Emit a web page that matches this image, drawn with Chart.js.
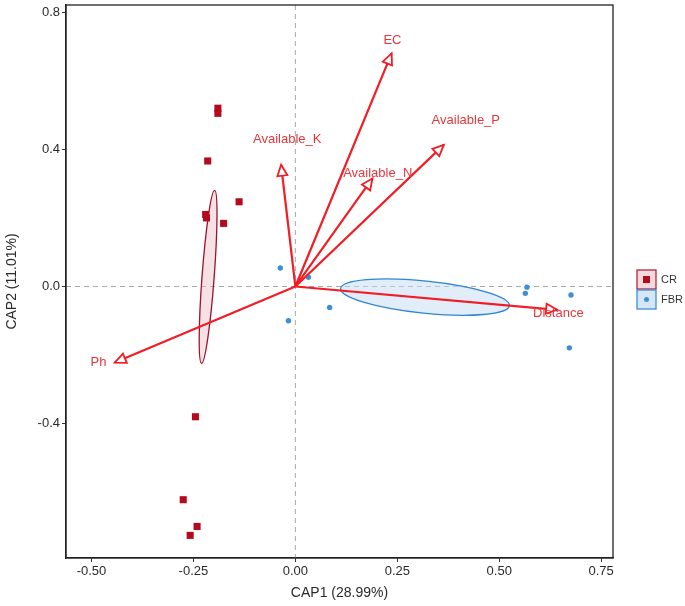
<!DOCTYPE html>
<html>
<head>
<meta charset="utf-8">
<script src="https://cdn.jsdelivr.net/npm/chart.js@4.4.1/dist/chart.umd.min.js"></script>
<style>
  html, body { margin: 0; padding: 0; background: #fff; }
  #wrap { width: 685px; height: 606px; }
</style>
</head>
<body>
<div id="wrap"><canvas id="myChart"></canvas></div>
<script>
// sample scores
var crX = [-0.19, -0.19, -0.215, -0.138, -0.22, -0.218, -0.176, -0.245, -0.275, -0.241, -0.258];
var crY = [0.52, 0.505, 0.366, 0.247, 0.21, 0.2, 0.184, -0.38, -0.622, -0.70, -0.726];
var fbrX = [-0.037, 0.032, 0.084, -0.017, 0.568, 0.564, 0.676, 0.672];
var fbrY = [0.054, 0.027, -0.061, -0.10, -0.002, -0.02, -0.025, -0.179];

// environmental vectors
var envNames = ['EC', 'Available_P', 'Available_K', 'Available_N', 'Distance', 'Ph'];
var envX = [0.236, 0.364, -0.035, 0.189, 0.642, -0.443];
var envY = [0.68, 0.413, 0.355, 0.315, -0.068, -0.222];
var envLabelX = [0.238, 0.418, -0.02, 0.202, 0.645, -0.483];
var envLabelY = [0.719, 0.483, 0.43, 0.33, -0.08, -0.222];

// group ellipses: centre, half major axis, minor/major ratio
var ellGroups = ['CR', 'FBR'];
var ellCx = [-0.214, 0.318];
var ellCy = [0.028, -0.031];
var ellAx = [0.016, 0.207];
var ellAy = [0.2525, -0.025];
var ellRatio = [0.07, 0.19];

var xTicks = [-0.5, -0.25, 0, 0.25, 0.5, 0.75];
var yTicks = [-0.4, 0, 0.4, 0.8];

var crColor = '#B40A1E';
var fbrColor = '#3C8FD8';
var arrowColor = '#F21D24';
var fontFam = '"Liberation Sans", Arial, sans-serif';

function pts(xs, ys) {
  var out = [];
  for (let i = 0; i < xs.length; i++) out.push({x: xs[i], y: ys[i]});
  return out;
}

var datasets = [];
for (let i = 0; i < envNames.length; i++) {
  datasets.push({
    label: envNames[i],
    type: 'line',
    data: [{x: 0, y: 0}, {x: envX[i], y: envY[i]}],
    borderColor: arrowColor,
    borderWidth: 2.2,
    pointRadius: 0,
    showLine: true,
    isArrow: true,
    order: 1
  });
}
datasets.push({
  label: 'CR',
  data: pts(crX, crY),
  pointStyle: 'rect',
  pointRadius: 5,
  backgroundColor: crColor,
  borderColor: crColor,
  borderWidth: 0,
  order: 2
});
datasets.push({
  label: 'FBR',
  data: pts(fbrX, fbrY),
  pointStyle: 'circle',
  pointRadius: 2.7,
  backgroundColor: fbrColor,
  borderColor: fbrColor,
  borderWidth: 0,
  order: 2
});

var bioplot = {
  id: 'bioplot',
  beforeDatasetsDraw(chart) {
    const ctx = chart.ctx, xs = chart.scales.x, ys = chart.scales.y, a = chart.chartArea;
    ctx.save();
    // zero lines
    ctx.setLineDash([5, 4]);
    ctx.strokeStyle = '#a8a8a8';
    ctx.lineWidth = 1;
    ctx.beginPath();
    ctx.moveTo(xs.getPixelForValue(0), a.top);
    ctx.lineTo(xs.getPixelForValue(0), a.bottom);
    ctx.moveTo(a.left, ys.getPixelForValue(0));
    ctx.lineTo(a.right, ys.getPixelForValue(0));
    ctx.stroke();
    ctx.setLineDash([]);
    // ellipses
    var fills = ['rgba(236,190,196,0.45)', 'rgba(196,220,242,0.5)'];
    var strokes = ['#9E1230', '#2F86D6'];
    for (let i = 0; i < ellGroups.length; i++) {
      const cx = xs.getPixelForValue(ellCx[i]), cy = ys.getPixelForValue(ellCy[i]);
      const ex = xs.getPixelForValue(ellCx[i] + ellAx[i]), ey = ys.getPixelForValue(ellCy[i] + ellAy[i]);
      const ra = Math.hypot(ex - cx, ey - cy);
      const ang = Math.atan2(ey - cy, ex - cx);
      ctx.beginPath();
      ctx.ellipse(cx, cy, ra, ra * ellRatio[i], ang, 0, Math.PI * 2);
      ctx.fillStyle = fills[i];
      ctx.fill();
      ctx.strokeStyle = strokes[i];
      ctx.lineWidth = 1.3;
      ctx.stroke();
    }
    ctx.restore();
  },
  afterDatasetsDraw(chart) {
    const ctx = chart.ctx, xs = chart.scales.x, ys = chart.scales.y, a = chart.chartArea;
    ctx.save();
    // arrow heads
    chart.data.datasets.forEach((ds, di) => {
      if (!ds.isArrow) return;
      const meta = chart.getDatasetMeta(di);
      const p0 = meta.data[0], p1 = meta.data[1];
      const ang = Math.atan2(p1.y - p0.y, p1.x - p0.x);
      const L = 11, W = 5;
      const bx = p1.x - L * Math.cos(ang), by = p1.y - L * Math.sin(ang);
      ctx.beginPath();
      ctx.moveTo(p1.x, p1.y);
      ctx.lineTo(bx + W * Math.sin(ang), by - W * Math.cos(ang));
      ctx.lineTo(bx - W * Math.sin(ang), by + W * Math.cos(ang));
      ctx.closePath();
      ctx.fillStyle = '#fff';
      ctx.fill();
      ctx.strokeStyle = arrowColor;
      ctx.lineWidth = 1.8;
      ctx.stroke();
    });
    // labels
    ctx.font = '13px ' + fontFam;
    ctx.fillStyle = '#E8363C';
    ctx.textAlign = 'center';
    ctx.textBaseline = 'middle';
    for (let i = 0; i < envNames.length; i++) {
      ctx.fillText(envNames[i], xs.getPixelForValue(envLabelX[i]), ys.getPixelForValue(envLabelY[i]));
    }
    // frame
    ctx.strokeStyle = '#222';
    ctx.lineWidth = 1.3;
    ctx.strokeRect(a.left, a.top, a.right - a.left, a.bottom - a.top);
    // legend
    var lx = 637, ly = 270, bs = 19;
    var lfill = ['rgba(236,190,196,0.6)', 'rgba(196,220,242,0.7)'];
    var lstroke = ['#B0283A', '#3C8FD8'];
    for (let i = 0; i < ellGroups.length; i++) {
      const y = ly + i * (bs + 1);
      ctx.fillStyle = lfill[i];
      ctx.fillRect(lx, y, bs, bs);
      ctx.strokeStyle = lstroke[i];
      ctx.lineWidth = 1.3;
      ctx.strokeRect(lx, y, bs, bs);
      if (i === 0) {
        ctx.fillStyle = crColor;
        ctx.fillRect(lx + bs / 2 - 3.5, y + bs / 2 - 3.5, 7, 7);
      } else {
        ctx.fillStyle = fbrColor;
        ctx.beginPath();
        ctx.arc(lx + bs / 2, y + bs / 2, 2.5, 0, Math.PI * 2);
        ctx.fill();
      }
      ctx.fillStyle = '#333';
      ctx.font = '11px ' + fontFam;
      ctx.textAlign = 'left';
      ctx.fillText(ellGroups[i], lx + bs + 5, y + bs / 2);
    }
    ctx.restore();
  }
};

var ctx = document.getElementById('myChart').getContext('2d');
var config = {
  type: 'scatter',
  data: { datasets: datasets },
  options: {
    responsive: true,
    maintainAspectRatio: false,
    animation: false,
    layout: { padding: { top: 4, right: 72, left: 0, bottom: 0 } },
    plugins: { legend: { display: false }, tooltip: { enabled: false } },
    scales: {
      x: {
        type: 'linear',
        min: -0.5625,
        max: 0.779,
        afterFit: s => { s.height = 48; s.paddingLeft = 0; s.paddingRight = 0; },
        afterBuildTicks: s => { s.ticks = xTicks.map(v => ({value: v})); },
        ticks: {
          callback: v => v.toFixed(2),
          color: '#2a2a2a',
          font: { family: fontFam, size: 13 },
          padding: 2,
          maxRotation: 0
        },
        grid: { drawOnChartArea: false, tickLength: 4, color: '#333' },
        border: { color: '#222', width: 1.3 },
        title: {
          display: true,
          text: 'CAP1 (28.99%)',
          color: '#2a2a2a',
          font: { family: fontFam, size: 14 },
          padding: { top: 2 }
        }
      },
      y: {
        type: 'linear',
        min: -0.792,
        max: 0.821,
        afterFit: s => { s.width = 66; s.paddingTop = 0; s.paddingBottom = 0; },
        afterBuildTicks: s => { s.ticks = yTicks.map(v => ({value: v})); },
        ticks: {
          callback: v => v.toFixed(1),
          color: '#2a2a2a',
          font: { family: fontFam, size: 13 },
          padding: 2
        },
        grid: { drawOnChartArea: false, tickLength: 4, color: '#333' },
        border: { color: '#222', width: 1.3 },
        title: {
          display: true,
          text: 'CAP2 (11.01%)',
          color: '#2a2a2a',
          font: { family: fontFam, size: 14 },
          padding: { bottom: 4 }
        }
      }
    }
  },
  plugins: [bioplot]
};
window.myChart = new Chart(ctx, config);
</script>
</body>
</html>
